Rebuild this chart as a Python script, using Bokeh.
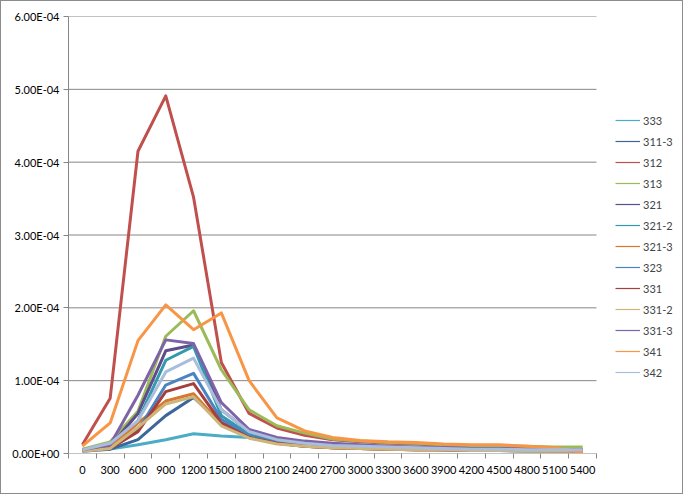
from bokeh.plotting import figure
from bokeh.models import (Range1d, FixedTicker, CustomJSTickFormatter, Legend, LegendItem,
                          ColumnDataSource)
from bokeh.embed import file_html
from bokeh.resources import INLINE

categories = ["0", "300", "600", "900", "1200", "1500", "1800", "2100", "2400", "2700",
              "3000", "3300", "3600", "3900", "4200", "4500", "4800", "5100", "5400"]
y_ticks = [0, 1e-4, 2e-4, 3e-4, 4e-4, 5e-4, 6e-4]

# values in units of 1E-04
s333 = [0.05, 0.06, 0.12, 0.19, 0.27, 0.24, 0.22, 0.17, 0.13, 0.10, 0.09, 0.08, 0.07, 0.06, 0.06, 0.05, 0.05, 0.04, 0.04]
s311_3 = [0.03, 0.06, 0.19, 0.52, 0.77, 0.42, 0.22, 0.14, 0.10, 0.08, 0.07, 0.06, 0.05, 0.05, 0.04, 0.04, 0.03, 0.03, 0.03]
s312 = [0.12, 0.76, 4.15, 4.91, 3.52, 1.25, 0.55, 0.35, 0.25, 0.19, 0.16, 0.14, 0.13, 0.11, 0.10, 0.10, 0.08, 0.07, 0.06]
s313 = [0.06, 0.16, 0.58, 1.61, 1.96, 1.15, 0.60, 0.38, 0.28, 0.20, 0.17, 0.15, 0.14, 0.12, 0.11, 0.11, 0.10, 0.09, 0.09]
s321 = [0.04, 0.10, 0.55, 1.41, 1.49, 0.60, 0.30, 0.20, 0.15, 0.12, 0.10, 0.09, 0.08, 0.07, 0.06, 0.06, 0.05, 0.05, 0.04]
s321_2 = [0.04, 0.08, 0.45, 1.28, 1.47, 0.52, 0.26, 0.17, 0.12, 0.10, 0.08, 0.07, 0.06, 0.06, 0.05, 0.05, 0.04, 0.04, 0.04]
s321_3 = [0.04, 0.08, 0.42, 0.72, 0.82, 0.40, 0.22, 0.14, 0.10, 0.08, 0.07, 0.06, 0.05, 0.05, 0.04, 0.04, 0.04, 0.03, 0.03]
s323 = [0.04, 0.07, 0.32, 0.94, 1.10, 0.47, 0.24, 0.15, 0.11, 0.09, 0.08, 0.07, 0.06, 0.05, 0.05, 0.04, 0.04, 0.04, 0.03]
s331 = [0.04, 0.07, 0.30, 0.85, 0.96, 0.42, 0.22, 0.14, 0.10, 0.08, 0.07, 0.06, 0.05, 0.05, 0.04, 0.04, 0.04, 0.03, 0.03]
s331_2 = [0.03, 0.07, 0.36, 0.68, 0.78, 0.38, 0.21, 0.13, 0.10, 0.08, 0.07, 0.06, 0.05, 0.05, 0.04, 0.04, 0.03, 0.03, 0.03]
s331_3 = [0.05, 0.12, 0.80, 1.56, 1.51, 0.70, 0.33, 0.22, 0.17, 0.14, 0.12, 0.10, 0.09, 0.08, 0.07, 0.07, 0.06, 0.06, 0.05]
s341 = [0.10, 0.42, 1.55, 2.04, 1.70, 1.93, 1.00, 0.49, 0.31, 0.22, 0.18, 0.16, 0.15, 0.13, 0.12, 0.12, 0.10, 0.08, 0.02]
s342 = [0.05, 0.14, 0.45, 1.12, 1.31, 0.60, 0.30, 0.19, 0.14, 0.11, 0.10, 0.09, 0.08, 0.07, 0.06, 0.06, 0.05, 0.05, 0.05]

series_names = ["333", "311-3", "312", "313", "321", "321-2", "321-3", "323",
                "331", "331-2", "331-3", "341", "342"]
series_values = [s333, s311_3, s312, s313, s321, s321_2, s321_3, s323,
                 s331, s331_2, s331_3, s341, s342]
series_colors = ["#4BACC6", "#3C679B", "#C0504D", "#9BBB59", "#5E4C8C", "#339AAE",
                 "#D9772F", "#4A84C2", "#A53F3D", "#CDB67C", "#7F63A9", "#F79646", "#A9BEDD"]
UNIT = 1e-4

FONT = "Lato"
GRAY = "#868686"

N = len(categories)
PLOT_W = 528          # width of the plotting area proper
FRAME_W = 614         # plotting area plus room for the legend
x_end = -0.5 + N * FRAME_W / PLOT_W

p = figure(frame_width=FRAME_W, frame_height=437, output_backend="svg", toolbar_location=None,
           x_range=Range1d(-0.5, x_end), y_range=Range1d(0, 6e-4),
           min_border_left=67, min_border_top=15, min_border_bottom=40, min_border_right=0)
p.styles = {"border": "1px solid #8c8c8c"}
p.outline_line_color = None
p.background_fill_color = "white"
p.border_fill_color = "white"

# horizontal grid lines limited to the category span
p.xgrid.visible = False
p.ygrid.visible = False
p.segment(x0=[-0.5] * len(y_ticks), x1=[N - 0.5] * len(y_ticks), y0=y_ticks, y1=y_ticks,
          line_color=GRAY, line_width=1)

xs = list(range(N))
nan = float("nan")
legend_items = []
for name, vals, col in zip(series_names, series_values, series_colors):
    src = ColumnDataSource(dict(x=xs, y=[v * UNIT for v in vals]))
    p.line("x", "y", source=src, line_color=col, line_width=3, line_join="round")
    dummy = p.line(x=[nan], y=[nan], line_color=col, line_width=1.2)
    legend_items.append(LegendItem(label=name, renderers=[dummy]))

p.yaxis.ticker = FixedTicker(ticks=y_ticks)
p.yaxis.formatter = CustomJSTickFormatter(code="""
var s = tick.toExponential(2); var parts = s.split('e'); var e = parseInt(parts[1]);
var a = Math.abs(e); var sign = e < 0 ? '-' : '+';
return parts[0] + 'E' + sign + (a < 10 ? '0' : '') + a;
""")
p.yaxis.major_tick_in = 0
p.yaxis.major_tick_out = 5

p.xaxis.ticker = FixedTicker(ticks=xs, minor_ticks=[i - 0.5 for i in range(N + 1)])
p.xaxis.major_label_overrides = {i: c for i, c in enumerate(categories)}
p.xaxis.major_tick_in = 0
p.xaxis.major_tick_out = 0
p.xaxis.minor_tick_in = 0
p.xaxis.minor_tick_out = 5
p.xaxis.major_label_standoff = 7
p.xaxis.axis_line_color = None

for ax in (p.xaxis, p.yaxis):
    ax.major_tick_line_color = GRAY
    ax.minor_tick_line_color = GRAY
    ax.major_label_text_font = FONT
    ax.major_label_text_font_size = "11px"
    ax.major_label_text_color = "#000000"
p.yaxis.axis_line_color = GRAY
p.yaxis.minor_tick_line_color = None
p.yaxis.major_label_standoff = 4

legend = Legend(items=legend_items, location=(547, 72), border_line_color=None,
                background_fill_alpha=0, padding=0, margin=0,
                glyph_width=25, glyph_height=18, label_height=18, spacing=3,
                label_standoff=3, label_text_font=FONT, label_text_font_size="11px")
p.add_layout(legend, "center")

open("out.html", "w").write(file_html(p, INLINE))
